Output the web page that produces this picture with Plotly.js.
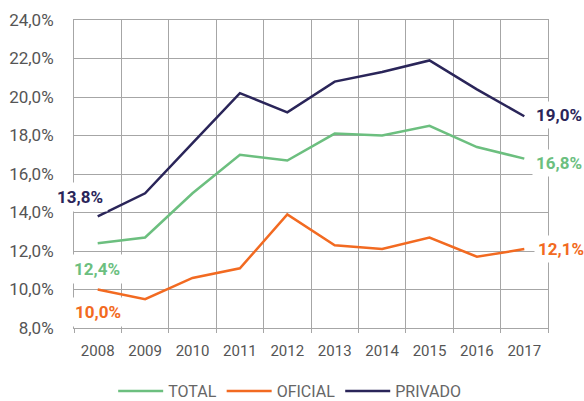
<!DOCTYPE html>
<html>
<head>
<meta charset="utf-8">
<script src="https://cdn.plot.ly/plotly-3.0.1.min.js"></script>
<style>html,body{margin:0;padding:0;background:#fff;}#chart{width:584px;height:401px;}</style>
</head>
<body>
<div id="chart"></div>
<script>
const years = ['2008','2009','2010','2011','2012','2013','2014','2015','2016','2017'];
const total   = [12.4, 12.7, 15.0, 17.0, 16.7, 18.1, 18.0, 18.5, 17.4, 16.8];
const oficial = [10.0, 9.5, 10.6, 11.1, 13.9, 12.3, 12.1, 12.7, 11.7, 12.1];
const privado = [13.8, 15.0, 17.6, 20.2, 19.2, 20.8, 21.3, 21.9, 20.4, 19.0];
const seriesNames = ['TOTAL', 'OFICIAL', 'PRIVADO'];
const yTicks = [8, 10, 12, 14, 16, 18, 20, 22, 24];

const colors = {TOTAL: '#6cbf7f', OFICIAL: '#f26a21', PRIVADO: '#2a2559'};
const fmt = v => v.toFixed(1).replace('.', ',') + '%';
const seriesData = [total, oficial, privado];

const traces = seriesNames.map((n, i) => ({
  type: 'scatter', mode: 'lines', name: n, x: years, y: seriesData[i],
  line: {color: colors[n], width: 2.5}, hoverinfo: 'skip'
}));

const last = years.length - 1;
const startOff = {TOTAL: [-1, -26], OFICIAL: [0, -22], PRIVADO: [-18, 19]};
const endOff = {TOTAL: [35, -4], OFICIAL: [37, 0], PRIVADO: [35, 1]};
const annotations = [];
seriesNames.forEach((n, i) => {
  const d = seriesData[i];
  annotations.push({x: 0, y: d[0], xref: 'x', yref: 'y', text: '<b>' + fmt(d[0]) + '</b>',
    showarrow: false, xanchor: 'center', yanchor: 'middle', xshift: startOff[n][0], yshift: startOff[n][1],
    font: {family: 'Roboto', size: 17, color: colors[n]}, bgcolor: '#ffffff', borderpad: 4});
  annotations.push({x: last, y: d[last], xref: 'x', yref: 'y', text: '<b>' + fmt(d[last]) + '</b>',
    showarrow: false, xanchor: 'center', yanchor: 'middle', xshift: endOff[n][0], yshift: endOff[n][1],
    font: {family: 'Roboto', size: 17, color: colors[n]}, bgcolor: '#ffffff', borderpad: 3});
});

const layout = {
  width: 584, height: 401,
  margin: {l: 74, r: 36, t: 20, b: 73, autoexpand: false},
  paper_bgcolor: '#fff', plot_bgcolor: '#fff',
  separators: ',.',
  font: {family: 'Roboto', color: '#555'},
  showlegend: true,
  legend: {orientation: 'h', x: 0.455, xanchor: 'center', y: 0.025, yanchor: 'middle', yref: 'container',
    font: {family: 'Roboto', size: 16, color: '#666'}, itemwidth: 45},
  xaxis: {type: 'category', tickson: 'boundaries', showgrid: true, gridcolor: '#a6a6a6', gridwidth: 1,
    ticks: 'outside', ticklen: 4, tickcolor: '#a6a6a6', showline: true, linecolor: '#a6a6a6', mirror: true,
    tickfont: {family: 'Roboto', size: 15, color: '#555'}, ticklabelstandoff: 9, range: [-0.5, 9.5], fixedrange: true},
  yaxis: {range: [8, 24], tickmode: 'array', tickvals: yTicks, ticktext: yTicks.map(fmt), showgrid: true, gridcolor: '#a6a6a6',
    gridwidth: 1, zeroline: false, showline: true, linecolor: '#a6a6a6', mirror: true, ticks: '',
    tickfont: {family: 'Roboto', size: 17, color: '#555'}, ticklabelstandoff: 16, fixedrange: true},
  annotations: annotations
};

Plotly.newPlot('chart', traces, layout, {displayModeBar: false, staticPlot: true});
</script>
</body>
</html>
